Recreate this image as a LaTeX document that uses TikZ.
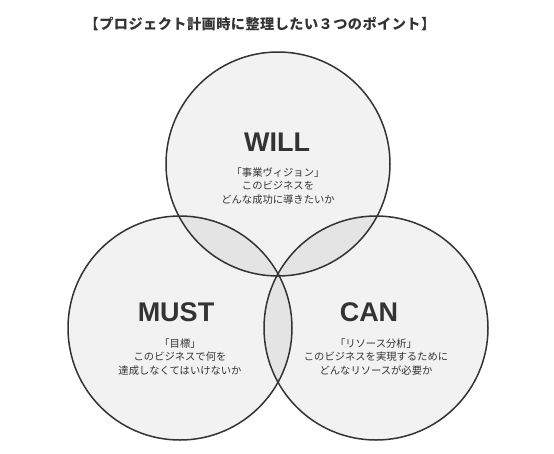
\documentclass[tikz,border=0pt]{standalone}
\usepackage{fontspec}
\usepackage{tikz}
\usepackage{xcolor}
\setmainfont{Noto Sans CJK JP}
\newfontfamily\headfont{Liberation Sans}
\definecolor{ink}{HTML}{333333}
\definecolor{disc}{HTML}{F2F2F2}
\definecolor{overlap}{HTML}{E4E4E4}
\tikzset{
  ring/.style={draw=ink,line width=1.5pt},
  head/.style={text=ink,font=\headfont\bfseries\fontsize{27}{29}\selectfont},
  note/.style={text=ink,align=center,font=\fontsize{10.3}{13.5}\selectfont}
}

\begin{document}
\begin{tikzpicture}[x=1pt,y=-1pt]
        \useasboundingbox (0,0) rectangle (554,453);
        % centres
        \coordinate (cwill) at (278,164);
        \coordinate (cmust) at (180,328);
        \coordinate (ccan) at (376,328);
        % discs
        \fill[disc] (cwill) circle (112);
        \fill[disc] (cmust) circle (112);
        \fill[disc] (ccan) circle (112);
        % overlaps
        \begin{scope}
            \clip (cwill) circle (112);
            \fill[overlap] (cmust) circle (112);
            \fill[overlap] (ccan) circle (112);
        \end{scope}
        \begin{scope}
            \clip (cmust) circle (112);
            \fill[overlap] (ccan) circle (112);
        \end{scope}
        % outlines
        \draw[ring] (cwill) circle (112);
        \draw[ring] (cmust) circle (112);
        \draw[ring] (ccan) circle (112);
        % title
        \node[text=ink,font=\bfseries\fontsize{14.2}{16}\selectfont\addfontfeatures{LetterSpace=3}] (title) at (260,24) {【プロジェクト計画時に整理したい３つのポイント】};
        % labels
        \node[head] (will) at (277,142) {WILL};
        \node[note] (willnote) at (278,186) {「事業ヴィジョン」\\このビジネスを\\どんな成功に導きたいか};
        \node[head] (must) at (176,312) {MUST};
        \node[note] (mustnote) at (180,357) {「目標」\\このビジネスで何を\\達成しなくてはいけないか};
        \node[head] (can) at (369,312) {CAN};
        \node[note] (cannote) at (376,357) {「リソース分析」\\このビジネスを実現するために\\どんなリソースが必要か};
\end{tikzpicture}
\end{document}
